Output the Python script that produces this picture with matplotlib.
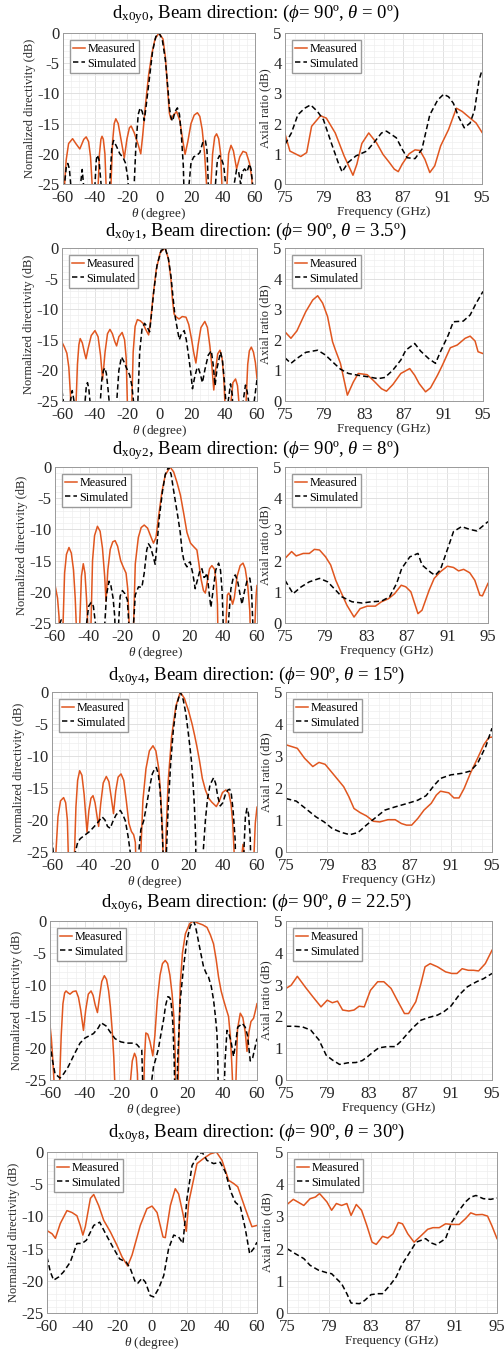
import numpy as np
import matplotlib
matplotlib.use("Agg")
import matplotlib.pyplot as plt
from matplotlib.ticker import MultipleLocator

plt.rcParams['font.family'] = ['Liberation Serif', 'DejaVu Serif']
plt.rcParams['mathtext.fontset'] = 'custom'
plt.rcParams['mathtext.rm'] = 'Liberation Serif'
plt.rcParams['mathtext.it'] = 'Liberation Serif:italic'
plt.rcParams['axes.unicode_minus'] = False

# ---- titles ----
subs = ['x0y0', 'x0y1', 'x0y2', 'x0y4', 'x0y6', 'x0y8']
beam_theta = ['0', '3.5', '8', '15', '22.5', '30']

# ---- radiation patterns (theta deg, normalized directivity dB); -30 = null below the axis ----
pat_meas_0 = [(-60,-30),(-59,-25),(-58,-21),(-56.5,-18.3),(-54,-17.5),(-52,-18.3),(-49.5,-19.2),(-47,-17.6),
              (-45.5,-17.2),(-44,-18),(-42.8,-20.5),(-41.8,-25),(-41.2,-30),(-38.6,-30),(-38,-25),(-37.2,-20),
              (-36.3,-17.6),(-35.6,-17.1),(-34.8,-17.6),(-33.8,-20),(-33.1,-25),(-32.7,-30),(-30.6,-30),
              (-30,-25),(-29,-18),(-28,-15),(-27,-14.2),(-25.5,-15),(-23.5,-18),(-21.7,-20.7),(-20,-17.5),
              (-18.5,-15.7),(-17.4,-15.4),(-15.5,-16.5),(-13,-18.5),(-11.4,-20),(-10.2,-17),(-8.5,-12),
              (-6.5,-7),(-4.5,-3.5),(-2.5,-1),(0,0),(2.5,-1),(4,-4),(5.3,-9),(6.5,-13.3),(7.5,-14.3),
              (9,-13.6),(11,-13),(13,-14.5),(15,-18),(16.3,-20.1),(18,-18),(20,-15),(22,-13.6),(24,-13.2),
              (25.5,-13.8),(27,-16),(28.5,-20),(29.7,-25),(30.4,-30),(31.8,-30),(32.5,-25),(33.5,-20),
              (34.8,-17.2),(36,-16.7),(37.3,-17.5),(38.5,-20),(39.3,-25),(39.8,-30),(41.8,-30),(42.5,-25),
              (43.5,-20),(45,-18.6),(46.5,-19.5),(48.5,-22.5),(50.5,-20.5),(52.5,-19.6),(54.5,-19.8),
              (56.5,-21.5),(58,-24),(59,-30),(60,-30)]
pat_sim_0 = [(-60,-30),(-59,-25),(-58,-22.3),(-57,-21.6),(-56,-22.5),(-55.2,-25),(-54.5,-30),(-49.8,-30),
             (-49,-25),(-48,-22.6),(-47.2,-25),(-46.6,-30),(-40.8,-30),(-40,-25),(-39.2,-21),(-38.5,-20.2),
             (-37.5,-21),(-36.2,-25),(-35.5,-30),(-31.5,-30),(-30.8,-25),(-29.5,-19),(-28.4,-17.8),
             (-26.5,-18.8),(-24.5,-20),(-22.5,-20.6),(-21,-21.5),(-19.5,-24),(-18.2,-30),(-16.3,-30),
             (-15.5,-25),(-14.5,-19),(-13,-13.5),(-11.8,-12.4),(-10.5,-13),(-9.2,-14.5),(-8,-12),(-6,-7.5),
             (-4,-3),(-2,-0.6),(0,0),(2,-1),(4,-4.5),(5.5,-9),(6.5,-12.3),(7.5,-14),(8.5,-14.6),(10,-13),
             (11.5,-12.4),(12.8,-13.5),(14,-17),(15.2,-22),(16,-30),(18,-30),(18.8,-25),(20,-21.5),
             (21.7,-20.5),(23.5,-20.3),(25.5,-19.8),(27.5,-18),(29,-17.8),(30,-19.5),(30.8,-25),(31.3,-30),
             (34.5,-30),(35.3,-25),(36.5,-21),(37.8,-20.3),(39,-20.8),(40.5,-22),(41.6,-25),(42.5,-30),
             (46.2,-30),(47,-25),(48.5,-22.6),(49.8,-23),(51,-25),(52,-23),(53.5,-22.5),(55,-23),
             (56.5,-21.7),(57.5,-22.5),(58.5,-25),(59.2,-30),(60,-30)]

pat_meas_1 = [(-60,-15.4),(-58.5,-16.2),(-57,-17.2),(-55.8,-19.5),(-54.8,-24),(-54.2,-30),(-51.8,-30),
              (-51.3,-25),(-50.5,-19),(-49.6,-15.8),(-48.8,-14.8),(-47.5,-15.5),(-46,-17.3),(-45.2,-18.1),
              (-44,-16.5),(-42,-14.3),(-39.7,-13.5),(-37.8,-14.5),(-36.3,-17.5),(-35,-21.5),(-33.5,-17),
              (-32,-14),(-30.5,-13.3),(-29,-14),(-27.5,-15.3),(-26.4,-16),(-25,-14.5),(-23,-13.8),(-21.5,-15),
              (-20.5,-18),(-19.8,-25),(-19.3,-30),(-17.5,-30),(-17,-25),(-16.2,-17),(-15,-12.8),(-13.6,-11.7),
              (-11.8,-11.9),(-10.2,-12.3),(-8.5,-13.3),(-6.7,-14.2),(-5.5,-12),(-4,-8),(-2,-3.5),(0.5,-0.7),
              (3.5,0),(5.5,-1.8),(7,-5),(8,-8.5),(9,-10.8),(10.5,-11.3),(12,-11.6),(14,-11.2),(16.3,-11.3),
              (18,-12.5),(19.8,-15),(21,-17),(22.4,-18.8),(23.8,-15.8),(25.5,-13),(27.9,-12),(29.5,-13),
              (31,-16),(32.3,-19.5),(33.4,-23.2),(34.5,-20),(35.8,-17.3),(37.2,-16.7),(38.5,-18),(39.5,-21),
              (40.2,-25),(40.7,-30),(43.5,-30),(44,-25),(45.2,-22),(46.8,-21.4),(48,-22.5),(48.8,-25),
              (49.3,-30),(52.8,-30),(53.3,-25),(54.3,-19),(55.3,-16.8),(56.5,-16.2),(57.8,-17),(59,-18.7),
              (60,-21.3)]
pat_sim_1 = [(-60,-23.3),(-59.2,-25),(-58.5,-30),(-55.5,-30),(-54.8,-25),(-53.7,-23.3),(-52.6,-25),(-52,-30),
             (-46.5,-30),(-45.8,-25),(-45,-22.5),(-44.3,-22),(-43.5,-23),(-42.8,-25),(-42.2,-30),(-37,-30),
             (-36.4,-25),(-35.5,-21.5),(-34.5,-20),(-33.6,-19.6),(-32.7,-20.5),(-31.7,-23),(-31,-25),
             (-30.5,-30),(-27,-30),(-26.3,-25),(-25,-20),(-23.4,-17.8),(-22,-18.5),(-20.5,-19.5),(-18.3,-20.8),
             (-17,-22.5),(-16,-25),(-15.5,-30),(-14,-30),(-13.3,-25),(-12.2,-17),(-10.8,-13.3),(-9.2,-12.3),
             (-7.8,-12.8),(-6.1,-13.7),(-5,-11),(-3.5,-7),(-1.5,-2.8),(1,-0.4),(3.5,0),(5.5,-1.8),(7,-4.5),
             (8.3,-8),(9.5,-11),(11,-13.3),(12.2,-15),(13.5,-14),(15.2,-13.5),(16.5,-15),(18,-17.8),
             (19.3,-20.5),(20.3,-23),(21.5,-21.3),(23,-19.7),(23.8,-19.5),(25,-20.5),(26.4,-22),(28,-19.8),
             (30,-17.5),(31.9,-16.8),(33,-19),(34.2,-22.5),(35.5,-19.5),(37.6,-17),(38.8,-18.5),(40,-22),
             (40.8,-25),(41.5,-30),(42.3,-25),(43.7,-22.2),(44.8,-24),(45.5,-30),(50.8,-30),(51.5,-25),
             (52.9,-22.4),(54,-23.5),(54.8,-25),(55.5,-30),(57.5,-30),(58.3,-25),(60,-21.5)]

pat_meas_2 = [(-60,-18.9),(-58.5,-21),(-57.6,-24),(-57,-30),(-55.8,-30),(-55.2,-25),(-54.3,-17),(-53.2,-14),
              (-51.7,-12.9),(-50.3,-13.8),(-49,-16.5),(-48,-21),(-47.4,-25),(-47,-30),(-45.8,-30),(-45.3,-25),
              (-44.3,-17.5),(-43.2,-15.5),(-42.2,-17),(-41.3,-21),(-40.6,-25),(-40.2,-30),(-39,-30),
              (-38.6,-25),(-37.7,-15),(-36.5,-11),(-34.8,-9.5),(-33.2,-10.3),(-31.8,-13),(-30.5,-17.5),
              (-29.7,-21.5),(-28.6,-16.5),(-27.2,-13.2),(-25.7,-12),(-24.3,-11.8),(-22.8,-12.7),(-21,-15),
              (-19.5,-16),(-17.8,-17),(-16.8,-19.5),(-16,-25),(-15.6,-30),(-13.8,-30),(-13.3,-25),
              (-12.3,-15.5),(-10.5,-11.3),(-8.8,-9.7),(-7,-9.3),(-5,-9.8),(-3,-11.2),(-1.5,-12.2),(0,-11.3),
              (1.5,-8),(3.5,-4),(5.5,-1.3),(8.4,0),(10.5,-0.8),(12.5,-2.5),(14.5,-4.5),(16.5,-7.5),
              (18.4,-10.5),(20.5,-12.2),(22.5,-12.8),(24.3,-13.3),(25.5,-15.5),(26.8,-18),(28.2,-19.8),
              (29.3,-20.2),(30.5,-18.3),(31.8,-16.3),(33.2,-15.8),(34.8,-16.4),(35.8,-18.5),(36.5,-22),
              (37,-30),(41,-30),(41.6,-25),(42.4,-20.5),(43.2,-20.2),(44.4,-20.8),(45.5,-22),(46.5,-21),
              (48.2,-17.5),(50,-15.8),(51.7,-15.4),(53,-16.3),(54.5,-19),(55.7,-23),(56.5,-30),(58.3,-30),
              (58.8,-25),(59.5,-20.5),(60,-19)]
pat_sim_2 = [(-60,-30),(-57.5,-30),(-57,-25),(-56.3,-24.5),(-55.7,-25),(-55.2,-30),(-42,-30),(-41.2,-25),
             (-40,-22.3),(-38.5,-21.7),(-37.2,-22.3),(-36,-25),(-35.3,-30),(-31,-30),(-30.4,-25),(-29.4,-20.5),
             (-27.9,-18.3),(-26.8,-19),(-25.5,-21),(-24.5,-24),(-24,-30),(-22.7,-30),(-22.2,-25),
             (-21.3,-20.7),(-20,-19.8),(-18.5,-20.3),(-17,-21.3),(-16.2,-25),(-15.7,-30),(-13.8,-30),
             (-13.3,-25),(-12.3,-20.5),(-10.4,-19.2),(-8.4,-19.3),(-7,-17),(-5.5,-13.3),(-4.5,-12.3),
             (-3.3,-12.8),(-1.8,-14.2),(-0.5,-15.6),(0.7,-12),(2,-8),(3.8,-4),(5.5,-1.2),(7.4,0),(9,-1.2),
             (10.3,-3.5),(11.5,-5.5),(13,-8),(14.4,-10.5),(15.5,-13.5),(16.8,-15.3),(18.4,-16),(19.3,-15.4),
             (20.3,-15.2),(21.8,-17),(23.3,-19.5),(25,-17.7),(26.3,-16.4),(27.3,-16.3),(28.5,-17.7),
             (29.5,-17.5),(30.3,-17),(31.5,-20),(32.6,-22.5),(33.8,-20),(35.5,-16.5),(37.2,-15.4),
             (38.3,-16.5),(39.3,-20),(39.9,-25),(40.3,-30),(42.5,-30),(43,-25),(44.5,-19.5),(46,-17.6),
             (47.1,-17.3),(48.5,-18.3),(50,-20.5),(51.1,-22),(52.5,-20),(54,-18.3),(55.7,-17.8),(56.7,-19.5),
             (57.5,-25),(58,-30),(60,-30)]

pat_meas_3 = [(-60,-30),(-58.3,-30),(-57.7,-25),(-56.5,-19.5),(-55,-17),(-53.2,-16.5),(-52,-17.3),(-51,-20),
              (-50.5,-25),(-50.2,-30),(-47.3,-30),(-46.8,-25),(-46,-18),(-45,-13.8),(-43.8,-12.3),(-42.5,-13),
              (-41.2,-16),(-40.2,-19.5),(-39.5,-21.9),(-38.4,-18.5),(-37.2,-16.6),(-36,-16.2),(-34.8,-17.3),
              (-33.6,-19.5),(-32.7,-21),(-31.5,-17.5),(-30,-14.2),(-28.2,-13.2),(-26.7,-14),(-25.3,-16.5),
              (-24,-19),(-22.7,-15.5),(-21.3,-13.3),(-19.6,-12.8),(-18,-13.8),(-16.5,-17),(-15,-20.5),
              (-13.5,-21.8),(-12.2,-22.3),(-11.2,-23.5),(-10.5,-30),(-8.5,-30),(-8,-25),(-6.8,-17),(-5,-12),
              (-3,-9.2),(-0.9,-8.4),(0.8,-9.2),(2.5,-12),(3.7,-16.5),(4.7,-22),(5.3,-30),(6.2,-30),(6.8,-22),
              (8,-14),(10,-7),(12.5,-2.2),(15.1,0),(17.5,-1),(20,-3),(22,-5),(23.5,-6.8),(24.8,-8.5),
              (26.2,-10.5),(28,-13.5),(29.8,-15.3),(31.7,-16.6),(33.5,-17.2),(36.2,-17.9),(38,-17),
              (39.8,-15.7),(41.8,-15.3),(43.5,-15.8),(44.8,-17.5),(45.8,-20.5),(46.6,-25),(47,-30),(50.8,-30),
              (51.3,-25),(51.8,-23.8),(52.4,-25),(52.8,-30),(57.8,-30),(58.3,-25),(59,-20.5),(60,-18)]
pat_sim_3 = [(-60,-23),(-59.3,-25),(-58.7,-30),(-47,-30),(-46.3,-25),(-45,-23.5),(-43.4,-22.9),(-40,-22.2),
             (-38,-21.8),(-36.6,-21.4),(-33.5,-20.5),(-30.7,-19.5),(-29,-20),(-27.5,-21),(-25.9,-21.3),
             (-24.5,-20.3),(-22.5,-19.2),(-20,-18.5),(-18.5,-19.2),(-17.1,-20.1),(-15.5,-22.5),(-14.2,-25),
             (-13.5,-30),(-9.6,-30),(-9.2,-25),(-8,-21.5),(-6.3,-20.1),(-4.5,-17.5),(-2.8,-14.8),(-1.3,-12.8),
             (0.3,-11.9),(1.1,-11.8),(2.2,-12.8),(3.3,-15.5),(4.3,-20.5),(5,-25),(5.4,-30),(6.5,-30),(7,-25),
             (8,-18),(9.5,-11),(11,-6),(12.8,-2.2),(15.1,0),(16.8,-1.2),(18.3,-3.3),(19.5,-5.8),(20.7,-8.5),
             (21.7,-11),(22.5,-14),(23.3,-17.5),(24,-22),(24.5,-30),(27.8,-30),(28.5,-25),(29.8,-20),
             (31,-16.8),(32.5,-14.5),(34.6,-13.4),(35.8,-14.3),(37,-16.3),(38.5,-17.8),(40,-17.3),(41.5,-16),
             (43,-15.3),(44,-15.2),(45,-16),(46,-18.5),(47.2,-23),(47.8,-30),(51.8,-30),(52.3,-25),
             (53.2,-19.5),(54.1,-18.2),(55,-19),(56,-22.5),(56.7,-30),(59.3,-30),(60,-25)]

pat_meas_4 = [(-60,-16.4),(-59.2,-18.5),(-58.5,-21.3),(-57.7,-25),(-57.2,-30),(-55,-30),(-54.4,-25),(-53.5,-18),
              (-52.5,-13),(-51.5,-11.3),(-50.7,-11),(-49.5,-11.3),(-48.4,-11.5),(-46.7,-11.1),(-44.9,-11),
              (-43.5,-12),(-42.2,-14),(-40.6,-17.2),(-39.3,-14),(-37.8,-11.5),(-36.2,-11),(-35,-11.7),
              (-33.8,-13.2),(-32.5,-14.4),(-31.3,-12),(-30,-9.5),(-28.5,-8.6),(-27.2,-9.2),(-26,-11),
              (-25,-13.5),(-24,-17),(-23,-21.5),(-22.5,-25),(-22,-30),(-14,-30),(-13.3,-25),(-12.3,-22),
              (-11,-20.8),(-10,-21.5),(-9.3,-24),(-8.8,-30),(-5.8,-30),(-5.3,-22),(-4.45,-17.6),(-3.3,-17.8),
              (-2,-19),(-0.4,-21.2),(0.8,-18),(2.2,-12.5),(3.8,-8.5),(5.2,-6.7),(6.8,-6.2),(8.2,-6.7),
              (9.5,-8.5),(10.8,-11.5),(11.8,-15),(12.5,-20),(13,-30),(14,-30),(14.6,-20),(15.5,-10),(16.8,-5),
              (18.5,-2),(21,-0.4),(23.2,0),(25.5,-0.3),(28.5,-0.6),(31,-1),(33,-2.2),(34.8,-3.6),(36.3,-6),
              (37.7,-8.8),(39.2,-11),(40.6,-12.4),(42,-13.7),(43.5,-15),(44.5,-18),(45.3,-22),(45.8,-25),
              (46.2,-30),(47.3,-30),(47.8,-25),(48.7,-17),(50.3,-14.5),(51.8,-15.2),(53.2,-17.5),(54.2,-20.5),
              (55.3,-17.5),(56.5,-15.8),(58,-15.3),(59,-14.2),(60,-13)]
pat_sim_4 = [(-60,-19.2),(-58.5,-22),(-57.1,-24),(-54.2,-24.7),(-52,-24),(-49.4,-22.9),(-46,-21),(-42.6,-19.2),
             (-39.7,-18.4),(-34.8,-17.7),(-32,-16.8),(-30.4,-16),(-27.5,-16.5),(-25,-17.5),(-22.3,-18.5),
             (-19,-19),(-15.5,-19.2),(-12.5,-19.2),(-9.7,-19.4),(-6.8,-20.3),(-6.3,-25),(-5.8,-30),(-1.9,-30),
             (-1,-25),(0,-22.9),(1.5,-21.5),(2.9,-20),(4.5,-17.5),(5.8,-15.6),(7,-13.3),(8.3,-11.9),(9.3,-12),
             (10.1,-12.5),(11.2,-16),(12,-22),(12.6,-30),(13.5,-30),(14,-22),(15.5,-12.5),(17.5,-7),(19.4,-3),
             (21.3,-0.8),(23.2,0),(24.2,-0.7),(25.2,-2),(27,-4.5),(29,-7.2),(30.5,-8.2),(31.9,-8.8),(33.5,-10.3),
             (34.8,-12.4),(35.9,-15),(36.8,-17.7),(37.3,-22),(37.7,-30),(40.6,-30),(41.5,-22),(42.6,-17.2),
             (43.5,-17.5),(45,-19),(46.4,-21.3),(47.5,-19.5),(48.8,-16.7),(51.5,-16.1),(53.2,-16.7),
             (54.5,-18),(56.1,-22),(57.5,-21.5),(60,-18.5)]

pat_meas_5 = [(-60,-12.2),(-57.1,-12.7),(-55.2,-13.4),(-52.4,-11.1),(-48.6,-9.1),(-45.7,-9.4),(-42.9,-9.9),
              (-41,-11.4),(-39.5,-12.9),(-38.1,-11.6),(-35.2,-7.2),(-33.3,-6.6),(-30.5,-8.3),(-27.6,-10.6),
              (-23.8,-12.4),(-20,-14.5),(-17.1,-16.3),(-13.9,-17.7),(-11.4,-16),(-6.7,-11.4),(-2.9,-8.8),
              (0,-8.4),(2.9,-9.4),(6.3,-13.2),(7.6,-13.3),(10.5,-8.3),(13.3,-5.7),(15.2,-6.5),(17.7,-9.6),
              (19.6,-12.3),(21,-7.8),(25.7,-1.8),(29.5,-1),(33.3,-0.3),(36.8,0),(40,-1.3),(43.8,-4.4),
              (46.7,-4.9),(49,-5.4),(53.3,-8.8),(57.1,-11.6),(60,-11.4)]
pat_sim_5 = [(-60,-16.3),(-58.1,-18.6),(-56.2,-19.9),(-53.3,-19.4),(-50.5,-18.6),(-46.7,-17.1),(-42.9,-14.2),
             (-40,-14.2),(-37.5,-13.7),(-33.3,-11.4),(-29.9,-10.9),(-26.1,-12.9),(-21.9,-15),(-18.5,-16.6),
             (-14.7,-17.1),(-12.4,-18.1),(-9.5,-20.2),(-8.2,-20.4),(-5.7,-19.6),(-3.8,-20.2),(-1,-22.3),
             (1,-22.5),(3.8,-21.2),(6.7,-19.2),(9.5,-15),(12.4,-12.9),(15.2,-13.2),(17.7,-14.2),(20,-7.2),
             (22.9,-2.1),(25.7,-0.8),(28.6,0),(31.4,-1.3),(35.2,-1.8),(39,-1.6),(41.9,-3.1),(45.1,-6.2),
             (47.6,-7.8),(50.5,-8.5),(53.3,-11.9),(55.8,-15.8),(58.1,-15),(60,-14)]

# ---- axial ratio (GHz, dB) ----
ar_meas_0 = [(75,1.66),(75.5,1.09),(76.6,0.91),(77.2,1.04),(77.7,1.91),(78.6,2.26),(79.2,2.18),(80.1,1.69),
             (81,0.93),(81.9,0.29),(82.3,0.66),(82.8,1.34),(83.5,1.69),(84.3,1.36),(84.95,0.98),(85.6,0.71),
             (86.1,0.49),(86.5,0.41),(86.9,0.66),(87.6,1.0),(88.2,1.13),(88.7,1.11),(89.2,0.82),(89.7,0.38),
             (90.2,0.6),(90.8,1.26),(91.6,1.8),(92.4,2.51),(93,2.4),(93.8,2.18),(94.4,2.02),(95,1.71)]
ar_sim_0 = [(75,1.31),(75.65,1.69),(76.3,2.29),(77,2.51),(77.6,2.62),(78.3,2.4),(78.9,2.13),(79.7,1.36),
            (80.4,0.71),(80.8,0.4),(81.4,0.71),(82.2,0.93),(83.3,1.09),(84,1.36),(84.8,1.69),(85.3,1.75),
            (86.3,1.53),(86.9,1.15),(87.4,0.87),(88.2,0.84),(88.9,1.15),(89.7,2.29),(90.5,2.78),(91.1,2.97),
            (91.6,2.89),(92.1,2.67),(92.6,2.24),(93.2,1.86),(93.8,2.02),(94.25,2.46),(94.7,3.44),(95,3.77)]

ar_meas_1 = [(75,2.26),(75.6,2.05),(76.2,2.29),(77.1,2.92),(77.8,3.3),(78.3,3.44),(78.8,3.2),(79.3,2.76),
             (79.8,1.94),(80.1,1.66),(80.6,1.23),(81.3,0.19),(81.9,0.62),(82.4,0.9),(83.3,0.86),(83.9,0.68),
             (84.75,0.4),(85.25,0.32),(85.9,0.54),(86.7,0.9),(87.6,1.06),(88.1,0.84),(88.55,0.57),(89.2,0.3),
             (89.7,0.43),(90.4,0.84),(90.9,1.17),(91.7,1.74),(92.4,1.83),(93.2,2.05),(93.7,2.12),(94.2,1.96),
             (94.5,1.61),(95,1.55)]
ar_sim_1 = [(75,1.41),(75.6,1.23),(76.2,1.39),(77.1,1.59),(78.3,1.66),(79.1,1.5),(79.8,1.28),(80.6,1.04),
            (81.4,0.9),(82.4,0.84),(83.4,0.79),(84.4,0.73),(85.1,0.77),(85.9,1.01),(86.7,1.34),(87.2,1.66),
            (88.1,1.88),(88.7,1.63),(89.5,1.39),(90.2,1.23),(90.7,1.61),(91.5,2.16),(92,2.59),(93,2.61),
            (93.7,2.81),(94.3,3.19),(95,3.58)]

ar_meas_2 = [(75,2.07),(75.65,2.29),(76.1,2.15),(76.8,2.23),(77.4,2.23),(77.9,2.36),(78.4,2.34),(79,2.12),
             (79.5,1.86),(80,1.37),(80.5,1.0),(81.1,0.57),(81.8,0.19),(82.4,0.46),(83.1,0.54),(83.9,0.54),
             (84.5,0.68),(85.2,0.78),(85.8,0.94),(86.45,1.21),(86.9,1.16),(87.4,1.0),(88.1,0.3),(88.5,0.41),
             (89.2,1.05),(89.7,1.43),(90.3,1.64),(91,1.82),(91.6,1.78),(92.1,1.67),(92.6,1.72),(93.2,1.61),
             (93.7,1.37),(94.2,0.89),(94.45,0.87),(95,1.27)]
ar_sim_2 = [(75,1.37),(75.8,0.94),(76.6,1.16),(77.4,1.32),(78.4,1.43),(79.2,1.32),(80,1.05),(80.6,0.84),
            (81.6,0.68),(82.6,0.64),(83.5,0.68),(84.5,0.7),(85.3,0.84),(86,1.27),(86.5,1.75),(87.3,2.12),
            (88.1,2.23),(88.5,1.86),(89.4,1.61),(89.8,1.53),(90.3,1.7),(91.1,2.45),(91.6,2.93),(92.4,3.09),
            (93.2,3.0),(93.9,2.95),(94.35,3.07),(95,3.25)]

ar_meas_3 = [(75,3.35),(76.1,3.24),(76.8,2.93),(77.6,2.67),(78.2,2.8),(78.8,2.74),(79.6,2.43),(80.6,2.04),
             (81.1,1.73),(81.6,1.36),(82.2,1.23),(82.8,1.13),(83.5,0.96),(84.1,0.94),(84.9,1.01),(85.6,1.01),
             (86.2,0.89),(86.7,0.84),(87.2,0.84),(87.8,1.05),(88.4,1.31),(89.1,1.52),(89.6,1.78),(90,1.9),
             (90.8,1.85),(91.3,1.69),(91.8,1.69),(92.3,1.99),(92.9,2.46),(93.6,2.93),(94.2,3.35),(94.7,3.58),
             (95,3.59)]
ar_sim_3 = [(75,1.67),(76,1.59),(76.9,1.36),(77.9,1.1),(78.7,0.94),(79.5,0.73),(80.4,0.61),(81.2,0.54),
            (82,0.61),(82.8,0.84),(83.6,1.05),(84.6,1.31),(85.6,1.41),(86.8,1.52),(87.8,1.62),(88.6,1.76),
            (89.4,2.09),(90,2.3),(91,2.41),(92.1,2.46),(92.9,2.53),(93.6,2.77),(94.4,3.3),(95,3.87)]

ar_meas_4 = [(75,2.88),(75.5,2.98),(76.1,3.26),(76.9,2.91),(77.6,2.62),(78.4,2.3),(79,2.51),(79.5,2.43),
             (80,2.48),(80.5,2.2),(81.1,2.17),(81.6,2.2),(82.1,2.32),(82.6,2.3),(83.2,2.82),(83.9,3.09),
             (84.5,3.09),(85.2,2.88),(85.8,2.51),(86.5,2.09),(86.9,2.09),(87.6,2.46),(88.1,3.03),(88.5,3.56),
             (89,3.66),(89.7,3.56),(90.5,3.4),(91.1,3.35),(91.6,3.35),(92.1,3.5),(92.7,3.45),(93.2,3.45),
             (93.7,3.43),(94.35,3.66),(95,4.08)]
ar_sim_4 = [(75,1.69),(75.8,1.69),(76.6,1.67),(77.4,1.57),(78.2,1.26),(78.9,0.78),(79.5,0.63),(80.2,0.49),
            (81,0.54),(81.8,0.55),(82.4,0.61),(82.9,0.73),(83.5,0.89),(84,1.01),(84.8,1.05),(85.6,1.05),
            (86.1,1.2),(86.8,1.46),(87.4,1.67),(88.1,1.88),(88.9,1.97),(89.7,2.04),(90.3,2.14),(91,2.32),
            (91.8,2.67),(92.6,2.93),(93.5,3.09),(94.2,3.19),(95,3.35)]

ar_meas_5 = [(75,3.37),(75.6,3.53),(76.6,3.34),(77.2,3.55),(77.7,3.6),(78.1,3.71),(78.8,3.45),(79.25,3.19),
             (79.7,3.4),(80.2,3.34),(80.7,3.4),(81.1,3.03),(81.6,3.37),(82.1,3.19),(82.6,2.72),(83.1,2.2),
             (83.5,2.13),(84.1,2.38),(84.6,2.33),(85.1,2.46),(85.6,2.81),(86,2.77),(86.5,2.46),(87.1,2.2),
             (87.8,2.41),(88.4,2.6),(88.9,2.65),(89.5,2.65),(90.1,2.77),(90.75,2.75),(91.4,2.75),(92,2.93),
             (92.5,3.11),(93,3.05),(93.6,3.06),(94.1,3.01),(94.5,2.72),(95,2.31)]
ar_sim_5 = [(75,2.0),(75.8,1.84),(76.6,1.69),(77.2,1.48),(78,1.33),(78.8,1.25),(79.25,1.22),(79.7,1.07),
            (80.2,0.91),(80.7,0.6),(81.1,0.31),(81.9,0.29),(82.4,0.39),(83,0.57),(83.7,0.6),(84.1,0.6),
            (84.8,0.86),(85.4,1.12),(85.9,1.48),(86.7,1.89),(87.3,2.2),(87.8,2.26),(88.2,2.31),(88.7,2.18),
            (89.2,2.12),(89.6,2.2),(90.1,2.31),(90.7,2.83),(91.4,3.19),(92,3.45),(92.5,3.6),(93,3.65),
            (93.7,3.55),(94.4,3.53),(95,3.57)]

pat_meas = [pat_meas_0, pat_meas_1, pat_meas_2, pat_meas_3, pat_meas_4, pat_meas_5]
pat_sim = [pat_sim_0, pat_sim_1, pat_sim_2, pat_sim_3, pat_sim_4, pat_sim_5]
ar_meas = [ar_meas_0, ar_meas_1, ar_meas_2, ar_meas_3, ar_meas_4, ar_meas_5]
ar_sim = [ar_sim_0, ar_sim_1, ar_sim_2, ar_sim_3, ar_sim_4, ar_sim_5]

# layout in pixels: left x0, x1, right x0, x1, top, bottom, title y
W, H = 504, 1351
rows = [
    (63, 255, 285, 482, 33, 184, 14),
    (62, 257, 285, 483, 248, 401, 232),
    (55, 257, 285, 488, 467, 623, 450),
    (52, 257, 286, 492, 692, 852, 676),
    (50, 257, 286, 492, 921, 1080, 903),
    (47, 257, 287, 497, 1152, 1313, 1133),
]

ORANGE = '#E0561F'
GRIDC = '#DCDCDC'
TXT = '#262626'


def px_axes(fig, x0, x1, yt, yb):
    return fig.add_axes([x0 / W, 1 - yb / H, (x1 - x0) / W, (yb - yt) / H])


def style(ax):
    for s in ax.spines.values():
        s.set_color('#9a9a9a')
        s.set_linewidth(0.7)
    ax.tick_params(which='both', direction='in', length=0, colors=TXT, labelsize=12)
    ax.tick_params(axis='x', pad=4)
    ax.tick_params(axis='y', pad=2.5)
    ax.grid(True, which='major', color=GRIDC, lw=0.6)
    ax.grid(True, which='minor', color='#EEEEEE', lw=0.5)
    ax.set_axisbelow(True)


def add_legend(ax):
    ax.legend(loc='upper left', fontsize=8.7, frameon=True, fancybox=False, edgecolor='#9a9a9a',
              handlelength=1.0, handletextpad=0.15, borderpad=0.25, labelspacing=0.2,
              borderaxespad=0.6, framealpha=1)


fig = plt.figure(figsize=(W / 100, H / 100), dpi=100)

for i, (lx0, lx1, rx0, rx1, yt, yb, ty) in enumerate(rows):
    fig.text(0.508, 1 - ty / H,
             r'd$_{\rm ' + subs[i] + r'}$, Beam direction: ($\phi$= 90º, $\theta$ = ' + beam_theta[i] + 'º)',
             ha='center', va='center', fontsize=13.5, color='black')

    ax = px_axes(fig, lx0, lx1, yt, yb)
    th, db = zip(*pat_meas[i])
    ax.plot(th, db, color=ORANGE, lw=1.1, label='Measured')
    th, db = zip(*pat_sim[i])
    ax.plot(th, db, color='black', lw=1.1, ls=(0, (3.5, 2)), label='Simulated')
    ax.set_xlim(-60, 60)
    ax.set_ylim(-25, 0)
    ax.xaxis.set_major_locator(MultipleLocator(20))
    ax.xaxis.set_minor_locator(MultipleLocator(5))
    ax.yaxis.set_major_locator(MultipleLocator(5))
    ax.yaxis.set_minor_locator(MultipleLocator(1))
    style(ax)
    ax.set_xlabel(r'$\theta$ (degree)', fontsize=9.5, color=TXT, labelpad=0)
    ax.set_ylabel('Normalized directivity (dB)', fontsize=9, color=TXT, labelpad=1)
    add_legend(ax)

    ax2 = px_axes(fig, rx0, rx1, yt, yb)
    f, a = zip(*ar_meas[i])
    ax2.plot(f, a, color=ORANGE, lw=1.1, label='Measured')
    f, a = zip(*ar_sim[i])
    ax2.plot(f, a, color='black', lw=1.1, ls=(0, (3.5, 2)), label='Simulated')
    ax2.set_xlim(75, 95)
    ax2.set_ylim(0, 5)
    ax2.set_xticks([75, 79, 83, 87, 91, 95])
    ax2.xaxis.set_minor_locator(MultipleLocator(1))
    ax2.yaxis.set_major_locator(MultipleLocator(1))
    ax2.yaxis.set_minor_locator(MultipleLocator(0.2))
    style(ax2)
    ax2.set_xlabel('Frequency (GHz)', fontsize=9.5, color=TXT, labelpad=0)
    ax2.set_ylabel('Axial ratio (dB)', fontsize=9, color=TXT, labelpad=1)
    add_legend(ax2)

fig.savefig('out.png', dpi=100)
